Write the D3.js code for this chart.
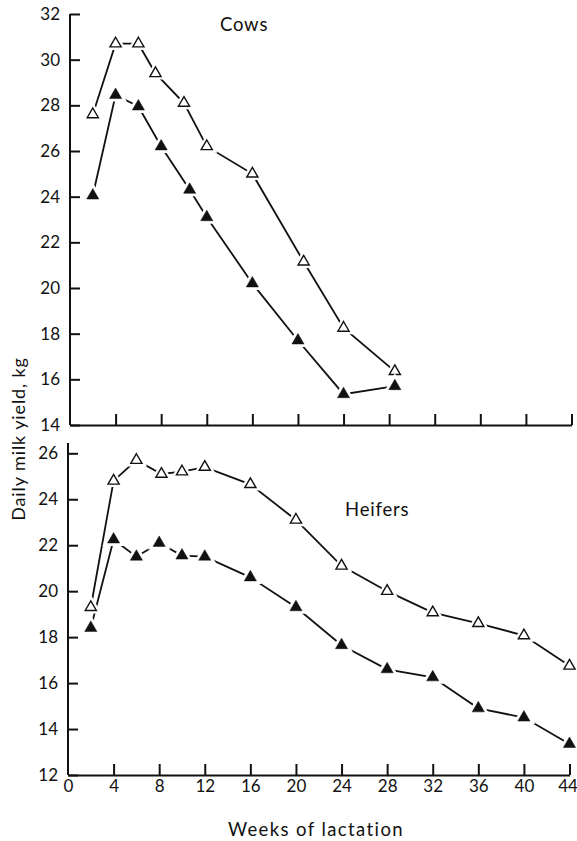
<!DOCTYPE html>
<html>
<head>
<meta charset="utf-8">
<script src="https://cdn.jsdelivr.net/npm/d3@7"></script>
<style>
  html, body { margin: 0; padding: 0; background: #fff; }
  svg { display: block; }
  text { font-family: Lato, "Open Sans", sans-serif; fill: #111; }
</style>
</head>
<body>
<svg id="chart" width="577" height="841"></svg>
<script>
// Weeks of lactation and daily milk yield (kg)
const cowsOpenWeeks   = [2, 4, 6, 7.5, 10, 12, 16, 20.5, 24, 28.5];
const cowsOpenYield   = [27.6, 30.7, 30.7, 29.4, 28.1, 26.2, 25.0, 21.15, 18.25, 16.35];
const cowsFilledWeeks = [2, 4, 6, 8, 10.5, 12, 16, 20, 24, 28.5];
const cowsFilledYield = [24.05, 28.45, 27.95, 26.2, 24.3, 23.1, 20.2, 17.7, 15.35, 15.7];

const heifersOpenWeeks   = [2, 4, 6, 8.2, 10, 12, 16, 20, 24, 28, 32, 36, 40, 44];
const heifersOpenYield   = [19.3, 24.8, 25.7, 25.1, 25.2, 25.4, 24.65, 23.1, 21.1, 20.0, 19.07, 18.6, 18.07, 16.75];
const heifersFilledWeeks = [2, 4, 6, 8, 10, 12, 16, 20, 24, 28, 32, 36, 40, 44];
const heifersFilledYield = [18.4, 22.25, 21.5, 22.1, 21.55, 21.5, 20.6, 19.3, 17.65, 16.6, 16.25, 14.9, 14.5, 13.35];

const xTicks = [0, 4, 8, 12, 16, 20, 24, 28, 32, 36, 40, 44];
const cowsYTicks = [14, 16, 18, 20, 22, 24, 26, 28, 30, 32];
const heifersYTicks = [12, 14, 16, 18, 20, 22, 24, 26];

const svg = d3.select("#chart");

function zip(ws, vs) { return ws.map((w, i) => ({ w, v: vs[i] })); }

function panel(opts) {
  const { x, y, yTicks, series, label, labelPos, showXLabels, yTop } = opts;
  const g = svg.append("g");

  // y axis, ticks pointing into the plot
  const yAxis = d3.axisLeft(y).tickValues(yTicks).tickFormat(d3.format("d"))
    .tickSizeInner(-10).tickSizeOuter(0).tickPadding(10);
  const ya = g.append("g").attr("transform", `translate(${x(0)},0)`).call(yAxis);
  ya.select(".domain").remove();
  ya.append("line").attr("x1", 0).attr("x2", 0)
    .attr("y1", yTop).attr("y2", y.range()[0])
    .attr("stroke", "#111").attr("stroke-width", 2);

  // x axis, ticks pointing up
  const xAxis = d3.axisBottom(x).tickValues(xTicks)
    .tickFormat(showXLabels ? d3.format("d") : "")
    .tickSizeInner(-11).tickSizeOuter(0).tickPadding(5);
  const xa = g.append("g").attr("transform", `translate(0,${y.range()[0]})`).call(xAxis);
  xa.select(".domain").attr("stroke-width", 2).attr("stroke", "#111");

  [ya, xa].forEach(a => {
    a.selectAll(".tick line").attr("stroke", "#111").attr("stroke-width", 2);
    a.selectAll(".tick text").style("font-size", "17px").style("font-family", "Lato, sans-serif").attr("fill", "#111");
  });
  xa.selectAll(".tick").filter(d => d === 0).select("line").remove();
  // keep the last week label inside the page edge
  xa.selectAll(".tick").filter(d => d === 44).select("text").attr("dx", -2);

  const line = d3.line().x(d => x(d.w)).y(d => y(d.v));
  const tri = d3.symbol().type(d3.symbolTriangle);

  series.forEach(s => {
    g.append("path").datum(s.data).attr("d", line)
      .attr("fill", "none").attr("stroke", "#111").attr("stroke-width", 1.8);
  });
  series.forEach(s => {
    const m = g.append("g").selectAll("g").data(s.data).join("g")
      .attr("transform", d => `translate(${x(d.w)},${y(d.v)})`);
    // white halo leaves a small gap between line and marker
    m.append("path").attr("d", tri.size(s.filled ? 64 : 54)())
      .attr("fill", "#fff").attr("stroke", "#fff").attr("stroke-width", 6);
    m.append("path").attr("d", tri.size(s.filled ? 64 : 54)())
      .attr("fill", s.filled ? "#111" : "#fff")
      .attr("stroke", "#111").attr("stroke-width", s.filled ? 0.5 : 1.4);
  });

  g.append("text").attr("x", labelPos[0]).attr("y", labelPos[1])
    .style("font-size", "18.5px").style("letter-spacing", "0.8px").text(label);
}

// Cows
panel({
  x: d3.scaleLinear().domain([0, 44]).range([70, 571.5]),
  y: d3.scaleLinear().domain([14, 32]).range([425, 14]),
  yTicks: cowsYTicks,
  yTop: 14,
  series: [
    { data: zip(cowsOpenWeeks, cowsOpenYield), filled: false },
    { data: zip(cowsFilledWeeks, cowsFilledYield), filled: true }
  ],
  label: "Cows", labelPos: [220, 31], showXLabels: false
});

// Heifers
panel({
  x: d3.scaleLinear().domain([0, 44]).range([68, 569.5]),
  y: d3.scaleLinear().domain([12, 26]).range([775, 453.3]),
  yTicks: heifersYTicks,
  yTop: 443,
  series: [
    { data: zip(heifersOpenWeeks, heifersOpenYield), filled: false },
    { data: zip(heifersFilledWeeks, heifersFilledYield), filled: true }
  ],
  label: "Heifers", labelPos: [345, 516], showXLabels: true
});

// axis titles
svg.append("text").attr("transform", "translate(25,439) rotate(-90)")
  .attr("text-anchor", "middle").style("font-size", "18px").style("letter-spacing", "0.9px")
  .text("Daily milk yield, kg");
svg.append("text").attr("x", 316).attr("y", 836)
  .attr("text-anchor", "middle").style("font-size", "18.5px").style("letter-spacing", "1.4px")
  .text("Weeks of lactation");
</script>
</body>
</html>
